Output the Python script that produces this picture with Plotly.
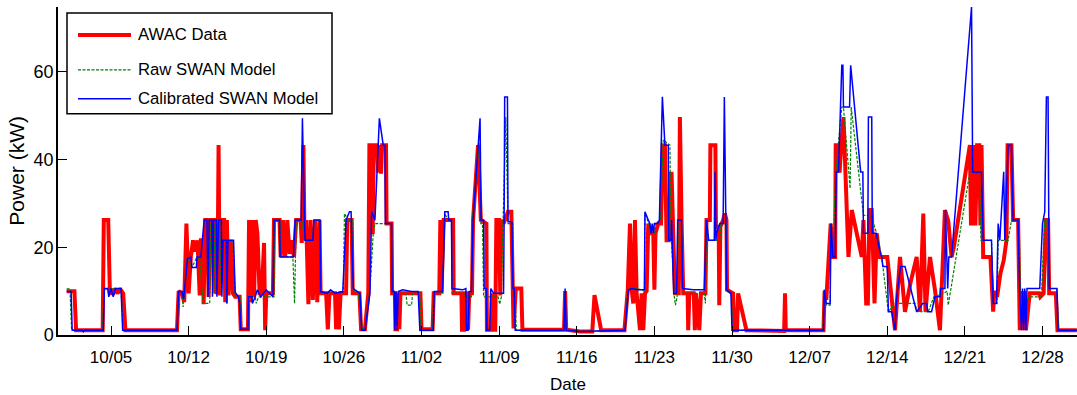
import pandas as pd
import plotly.graph_objects as go

# ---------------- data (days since 1 Oct, power in kW) ----------------
start = pd.Timestamp("2012-10-01")

awac_days = [0.0, 0.7, 0.85, 3.25, 3.35, 3.75, 3.9, 4.2, 4.3, 4.6, 4.8, 5.1, 5.3, 9.95, 10.1, 10.4, 10.6, 10.8,
             10.9, 11.0, 11.2, 11.4, 11.6, 11.8, 12.0, 12.1, 12.3, 12.35, 12.5, 12.7, 12.8, 13.0, 13.3, 13.4, 13.6, 13.7,
             13.8, 14.0, 14.2, 14.3, 14.45, 14.6, 14.8, 15.0, 15.2, 15.6, 15.7, 16.35, 16.45, 16.6, 16.75, 16.9, 17.05,
             17.2, 17.4, 17.6, 17.8, 17.9, 18.0, 18.6, 18.7, 19.2, 19.3, 19.5, 19.7, 19.9, 20.1, 20.3, 20.5, 20.7, 21.1,
             21.2, 21.35, 21.45, 21.6, 21.8, 22.0, 22.2, 22.4, 22.6, 22.8, 22.9, 23.4, 23.55, 23.7, 24.2, 24.3, 24.45,
             24.55, 24.7, 25.2, 25.3, 25.7, 25.8, 26.4, 26.55, 26.9, 27.2, 27.3, 27.55, 27.6, 27.7, 28.0, 28.1, 28.2,
             28.35, 28.45, 28.8, 28.85, 29.3, 29.35, 29.6, 29.65, 29.8, 29.9, 30.0, 30.1, 31.9, 32.0, 33.0, 33.1, 33.6,
             33.7, 33.8, 34.0, 34.85, 34.9, 35.6, 35.65, 35.85, 35.9, 36.15, 36.2, 36.3, 36.55, 36.65, 37.1, 37.35, 37.85,
             37.9, 38.3, 38.35, 38.45, 38.65, 38.75, 39.0, 39.1, 39.2, 39.4, 39.8, 40.1, 40.2, 40.3, 40.5, 41.0, 41.1,
             44.85, 44.95, 45.05, 46.3, 47.4, 47.6, 48.2, 50.3, 50.6, 50.8, 50.95, 51.1, 51.25, 51.4, 51.7, 51.85, 52.0,
             52.15, 52.3, 52.45, 52.6, 52.9, 53.0, 53.1, 53.35, 53.6, 53.75, 53.95, 54.1, 54.3, 54.45, 54.55, 54.7, 54.85,
             55.2, 55.3, 55.45, 55.6, 56.0, 56.05, 56.15, 56.55, 56.65, 56.75, 57.05, 57.2, 57.6, 57.7, 58.0, 58.05, 58.5,
             58.55, 58.8, 58.85, 58.95, 59.2, 59.35, 59.5, 59.55, 60.1, 60.2, 60.45, 60.55, 61.3, 64.7, 64.78, 64.85,
             68.25, 68.35, 68.5, 68.9, 69.1, 69.3, 69.35, 69.6, 69.7, 69.85, 70.05, 70.5, 70.8, 71.7, 71.85, 72.1, 72.25,
             72.4, 72.6, 72.85, 73.05, 73.3, 74.0, 74.7, 75.15, 75.6, 76.1, 76.65, 76.95, 77.25, 77.45, 77.85, 78.3,
             78.75, 79.2, 79.5, 79.8, 80.0, 81.45, 81.55, 81.65, 81.75, 81.85, 81.95, 82.1, 82.3, 82.4, 82.5, 82.65,
             83.3, 83.55, 83.65, 83.9, 84.2, 84.5, 84.75, 84.85, 85.2, 85.35, 85.8, 85.95, 86.1, 86.2, 86.35, 86.5,
             86.85, 87.7, 87.8, 88.1, 88.3, 88.5, 88.6, 89.2, 89.35, 91.1]
awac_kw = [10, 10, 1.1, 1.1, 26.2, 26.2, 9.5, 9.5, 10.6, 9.5, 10.6, 9.5, 1.1, 1.1, 10, 9.5, 7.5, 25.4,
           18, 9.5, 17.8, 21.6, 19, 21.6, 9, 21.6, 21.6, 7, 26.2, 26.2, 8.7, 26.2, 26.2, 9.5, 10, 43.3,
           9, 26.2, 26.2, 7.5, 26.2, 9, 21.6, 9.5, 8.7, 8.7, 1.3, 1.3, 26.2, 7.5, 26.2, 8.7, 26.2,
           23.2, 9.5, 9.5, 21, 1.1, 9.5, 9.5, 26.2, 26.2, 17.8, 26.2, 17.8, 26.2, 18.5, 21.6, 17.8, 26.2, 26.2,
           21, 43.3, 21.6, 26.2, 7, 26.2, 8, 26.2, 7.5, 26.2, 9.5, 9.5, 1.3, 9.5, 9.5, 1.3, 9.5,
           1.3, 9.5, 9.5, 26.2, 26.2, 9.5, 9.5, 1.3, 1.3, 9.5, 43.3, 43.3, 23, 43.3, 43.3, 37, 43.3,
           36.8, 43.3, 43.3, 25.4, 25.4, 9.5, 9.5, 1.3, 1.3, 9.5, 1.3, 9.5, 9.5, 1.3, 1.3, 9.5, 9.5,
           26.2, 9.5, 26.2, 26.2, 9.5, 9.5, 1.2, 1.2, 9.5, 9.5, 1.2, 9.5, 9.5, 26.2, 43.3, 26.2, 25.4,
           1.2, 1.2, 9.5, 1.2, 1.2, 26.2, 26.2, 9, 26.2, 25.4, 28.1, 28.1, 9.5, 1.5, 10.6, 10.6, 1.2,
           1.2, 10, 1.2, 0.8, 0.8, 9.1, 1.1, 1.1, 10.3, 25.4, 10.3, 7.2, 26.2, 9.5, 1.1, 9.5, 1.1,
           9.5, 10, 25.4, 23.2, 23.2, 10.3, 23.2, 25.4, 25.4, 43.3, 43.3, 21.6, 21.6, 36.8, 36.8, 17.8, 9.5,
           9.5, 49.7, 26.2, 9.5, 9.5, 1.1, 9.5, 9.5, 1.1, 9.5, 1.1, 9.5, 9.5, 26.2, 26.2, 43.3, 43.3,
           24.7, 24.7, 6.8, 24.7, 26.2, 27.7, 26.2, 10.3, 9.5, 1.1, 1.1, 9.5, 1.1, 0.9, 9.5, 1.1,
           1.1, 10, 8, 25.4, 17.8, 17.8, 43.3, 43.3, 37, 43.3, 49.7, 17.8, 28.5, 17.8, 26.2, 7.2, 7.2,
           28.5, 28.5, 7.2, 23.2, 17.8, 17.8, 1.1, 17.8, 5.3, 12, 17.8, 5.3, 27.7, 5.3, 17.8, 10.3,
           1.1, 28.5, 26, 17.8, 20, 43.3, 25, 43.3, 25, 43.3, 25, 43.3, 43.3, 25, 43.3, 17.8,
           17.8, 5.3, 10, 8.7, 14, 17, 21.6, 43.3, 43.3, 26.2, 26.2, 1.1, 10, 1.1, 10, 1.1,
           9.5, 9.5, 8.7, 9.5, 26.2, 26.2, 9.5, 9.5, 1.1, 1.1]

raw_days = [0.0, 0.3, 0.45, 3.2, 3.4, 4.9, 5.1, 9.95, 10.1, 10.4, 10.5, 10.9, 11.3, 11.7, 12.0, 12.3, 12.9, 13.0,
            13.3, 13.4, 13.5, 13.8, 13.95, 14.0, 14.4, 14.45, 14.5, 15.0, 15.2, 15.65, 15.75, 16.35, 16.4, 17.0, 17.1,
            17.3, 18.7, 18.75, 19.25, 19.3, 20.4, 20.55, 20.7, 21.2, 21.5, 22.2, 22.3, 22.85, 22.9, 24.95, 25.05, 25.4,
            25.8, 25.85, 26.3, 26.7, 26.9, 27.35, 27.65, 27.8, 29.3, 29.35, 30.6, 30.7, 31.1, 31.2, 31.85, 31.95, 33.0,
            33.1, 33.9, 34.1, 34.4, 34.7, 34.75, 35.9, 36.0, 36.5, 36.55, 37.2, 37.35, 37.5, 37.6, 38.9, 39.05, 39.2,
            39.35, 39.6, 39.8, 40.25, 40.3, 40.45, 40.55, 44.85, 44.95, 45.05, 46.3, 50.35, 50.6, 51.5, 52.1, 52.15,
            52.5, 52.6, 53.0, 53.1, 53.55, 53.8, 54.4, 54.5, 54.8, 54.9, 55.05, 55.15, 55.45, 55.6, 57.5, 57.6, 57.7,
            57.85, 58.9, 59.0, 59.5, 59.55, 59.95, 60.05, 68.2, 68.3, 68.5, 68.85, 68.9, 69.1, 69.35, 69.6, 69.9, 70.05,
            70.65, 70.75, 71.85, 72.5, 73.05, 73.5, 74.1, 74.7, 76.5, 76.7, 77.7, 78.2, 79.1, 79.4, 79.5, 81.45, 82.3,
            82.45, 83.4, 83.55, 83.9, 84.0, 84.9, 85.2, 85.9, 86.0, 86.3, 86.6, 86.8, 87.9, 88.2, 88.4, 88.6, 89.3,
            89.45, 91.1]
raw_kw = [10.5, 10.5, 1.1, 1.1, 10.5, 10.5, 1.1, 1.1, 10, 9.5, 6.4, 17.5, 15.4, 17.5, 17.5, 7.2, 7.2, 26.2,
          26.2, 9.5, 26.2, 26.2, 9.5, 21.6, 21.6, 7.2, 21.6, 21.6, 8.7, 8.7, 1.3, 1.3, 8.7, 8.7, 7.2,
          8.7, 8.7, 26.2, 26.2, 17.8, 17.8, 7.2, 26.2, 26.2, 21.6, 21.6, 26.2, 26.2, 9.5, 9.5, 27.7, 26.2,
          26.2, 10.3, 9.5, 1.1, 1.1, 10.3, 23.2, 25.4, 25.4, 9.5, 9.5, 6.8, 6.8, 9.5, 9.5, 1.1, 1.1,
          9.5, 9.5, 27.7, 26.2, 26.2, 9.5, 9.5, 8.7, 8.7, 25.4, 43.7, 25.4, 25.4, 8.7, 8.7, 7, 8.7,
          25.4, 49.7, 25.4, 25.4, 8.7, 8.7, 1.1, 1.1, 10, 1.1, 0.8, 1.1, 10.6, 10.6, 10, 27.7,
          25.4, 23.2, 23.2, 25.4, 26.2, 44.5, 43.3, 23.2, 8.7, 6.8, 8.7, 25.4, 25.4, 9.5, 9.5, 7.2, 26.2,
          21.6, 21.6, 25.4, 25.4, 10.3, 9, 1.1, 1.1, 10.3, 6.8, 6.8, 25.4, 17.8, 37, 43.3, 52, 52,
          33.4, 52, 27.3, 27.3, 23.2, 17.8, 5.3, 7.2, 7.2, 5.3, 5.3, 8.7, 9.5, 10, 6.8, 37.2, 37.2,
          21.6, 21.6, 7.2, 7.2, 21.6, 21.6, 26.2, 26.2, 9.5, 8.7, 7, 8.7, 8.7, 26.2, 26.2, 10.6, 10.6,
          1.1, 1.1]

cal_days = [0.0, 0.4, 0.5, 1.4, 1.5, 1.6, 3.3, 3.4, 3.7, 3.8, 4.0, 4.2, 4.4, 4.9, 5.05, 9.95, 10.1, 10.4, 10.55,
            10.9, 11.2, 11.3, 11.7, 11.75, 12.1, 12.4, 12.65, 12.75, 12.85, 13.1, 13.15, 13.25, 13.5, 13.55, 13.7,
            13.95, 14.0, 14.1, 14.4, 14.45, 14.55, 15.05, 15.2, 15.5, 15.6, 15.7, 16.35, 16.4, 16.7, 16.75, 17.0,
            17.2, 17.5, 18.0, 18.6, 18.7, 19.2, 19.25, 20.45, 20.6, 21.15, 21.26, 21.45, 21.5, 22.2, 22.3, 22.85,
            22.9, 23.5, 23.8, 24.2, 24.9, 25.2, 25.5, 25.65, 25.85, 26.45, 26.6, 26.9, 27.35, 27.5, 27.8, 28.2,
            28.55, 28.7, 28.75, 29.3, 29.35, 29.55, 29.6, 29.7, 29.8, 29.9, 30.3, 31.1, 31.7, 31.85, 33.05, 33.15,
            33.9, 34.1, 34.4, 34.45, 34.7, 34.75, 35.7, 36.0, 36.05, 36.2, 36.3, 36.5, 36.65, 37.28, 37.37, 37.6,
            37.65, 37.85, 37.9, 38.15, 38.25, 38.5, 39.4, 39.45, 39.5, 39.75, 39.8, 40.15, 40.25, 40.35, 40.45,
            44.85, 44.95, 45.05, 46.3, 50.35, 50.65, 51.0, 51.5, 52.1, 52.15, 52.45, 52.6, 52.7, 52.8, 52.9, 53.0,
            53.3, 53.45, 53.72, 53.95, 54.25, 54.3, 54.5, 54.55, 54.75, 55.0, 55.1, 55.45, 55.55, 56.5, 57.5, 57.7,
            57.9, 58.4, 58.47, 58.55, 58.6, 58.9, 59.2, 59.31, 59.45, 59.52, 59.9, 60.0, 68.25, 68.33, 68.5, 68.85,
            68.93, 69.1, 69.3, 69.4, 69.6, 69.9, 70.0, 70.05, 70.6, 70.7, 71.6, 71.8, 71.85, 72.25, 72.3, 72.6,
            72.65, 73.0, 73.3, 73.5, 73.6, 74.0, 74.1, 74.4, 74.7, 74.85, 75.2, 75.6, 76.65, 77.2, 77.55, 77.65,
            78.0, 78.3, 78.75, 78.8, 79.2, 79.25, 79.45, 79.55, 79.8, 81.6, 81.7, 82.5, 82.65, 83.4, 83.55, 83.85,
            84.0, 84.15, 84.5, 84.6, 84.9, 85.2, 85.35, 85.8, 85.95, 86.1, 86.2, 86.3, 86.4, 86.5, 86.6, 86.75,
            87.75, 88.0, 88.2, 88.35, 88.5, 88.6, 89.3, 89.4, 91.1]
cal_kw = [9.9, 9.9, 1.1, 1.1, 0.7, 1.1, 1.1, 10.6, 10.6, 8.7, 10.6, 8.7, 10.6, 10.6, 1.1, 1.1, 9.9, 9.9, 8.2,
          17.5, 17.8, 15.4, 15.4, 17.8, 17.8, 26.2, 26.2, 8.7, 26.2, 26.2, 8.7, 26.2, 26.2, 8.7, 26.2,
          26.2, 8.7, 21.6, 21.6, 7.2, 21.6, 21.6, 9.7, 8.7, 7.2, 1.3, 1.3, 8.7, 8.7, 7.2, 8.7,
          10.3, 8.7, 10.3, 8.7, 26.2, 26.2, 17.8, 17.8, 26.2, 26.2, 49.4, 26.2, 21.6, 21.6, 26.2, 26.2,
          9.9, 9.5, 10.3, 9.5, 9.9, 26.2, 28.1, 28.1, 10.6, 9.5, 1.1, 1.1, 9.5, 28.1, 26.2, 49.4,
          43.3, 43.3, 25.4, 25.4, 9.9, 9.9, 1.1, 9.9, 1.1, 9.9, 10.3, 9.9, 9.9, 1.1, 1.1, 9.9,
          9.9, 28.1, 28.1, 26.2, 26.2, 10.6, 10.3, 10.6, 1.1, 1.1, 9.9, 9.9, 26.2, 49.4, 26.2, 26.2,
          10.6, 10.6, 1.1, 1.1, 10.6, 9.5, 9.5, 26.2, 54.3, 54.3, 25.8, 25.8, 10.6, 10.6, 1.1,
          1.1, 10.6, 1.1, 0.8, 1.1, 10.3, 10.6, 10.3, 10.3, 28.1, 26.2, 25.4, 23.2, 25.4, 23.2, 25.4,
          25.4, 26.2, 54.3, 43.3, 43.3, 21.6, 21.6, 26.2, 9.5, 9.5, 26.2, 26.2, 10.6, 10.3, 10.3, 26.2,
          21.6, 21.6, 37.2, 21.6, 23.2, 25.4, 25.4, 54.3, 26.2, 10.3, 9.5, 1.1, 1.1, 10.3, 7.2, 7.2,
          25.4, 17.8, 17.8, 37.2, 37.2, 61.5, 61.5, 52, 52, 61.5, 37.2, 37.2, 23.2, 23.2, 49.7, 49.7,
          23.2, 23.2, 19.5, 17.8, 15.6, 15.6, 5.3, 5.3, 1.1, 8.7, 15.6, 15.6, 5.3, 7.2, 7.2, 5.3,
          5.3, 8.7, 8.7, 10.6, 10.6, 28.5, 10.6, 17.8, 17.8, 74.8, 37.2, 37.2, 21.6, 21.6, 7.2, 7.2,
          25.4, 21.6, 37.2, 21.6, 43.3, 43.3, 26.2, 26.2, 9.5, 1.1, 10.6, 1.1, 10.6, 1.1, 10.6, 10.6,
          10.6, 25.4, 28.1, 54.3, 54.3, 10.6, 10.6, 1.1, 1.1]

tick_days = [4, 11, 18, 25, 32, 39, 46, 53, 60, 67, 74, 81, 88]
tick_labels = ["10/05", "10/12", "10/19", "10/26", "11/02", "11/09", "11/16",
               "11/23", "11/30", "12/07", "12/14", "12/21", "12/28"]
y_ticks = [0, 20, 40, 60]
x_range_days = [-0.78, 91.11]
y_range = [0, 74.8]

series_names = ["AWAC Data", "Raw SWAN Model", "Calibrated SWAN Model"]


def to_dates(days):
    return start + pd.to_timedelta(pd.Series(days, dtype=float), unit="D")


FONT = "Liberation Sans, Arial, sans-serif"

fig = go.Figure()
fig.add_trace(go.Scatter(x=to_dates(awac_days), y=awac_kw, mode="lines", name=series_names[0],
                         line=dict(color="#ff0000", width=4), showlegend=False))
fig.add_trace(go.Scatter(x=to_dates(raw_days), y=raw_kw, mode="lines", name=series_names[1],
                         line=dict(color="#008000", width=1.2, dash="3px,1.5px"), showlegend=False))
fig.add_trace(go.Scatter(x=to_dates(cal_days), y=cal_kw, mode="lines", name=series_names[2],
                         line=dict(color="#0000ff", width=1.5), showlegend=False))

xr = list(to_dates(x_range_days))
fig.update_layout(
    width=1077, height=395,
    margin=dict(l=58, r=0, t=7, b=59.5),
    paper_bgcolor="white", plot_bgcolor="white",
    font=dict(family=FONT, size=17, color="black"),
    xaxis=dict(range=xr, tickvals=list(to_dates(tick_days)), ticktext=tick_labels,
               ticks="inside", ticklen=9, tickcolor="black", tickwidth=1, ticklabelstandoff=6,
               showline=True, linecolor="black", linewidth=1.5, showgrid=False, zeroline=False,
               tickfont=dict(family=FONT, size=17)),
    yaxis=dict(range=y_range, tickvals=y_ticks, ticks="inside", ticklen=9, tickcolor="black",
               ticklabelstandoff=-1,
               showline=True, linecolor="black", linewidth=1.5, showgrid=False, zeroline=False,
               tickfont=dict(family=FONT, size=18)),
)

# axis titles
fig.add_annotation(text="Date", xref="paper", yref="paper", x=0.5, y=-0.151,
                   xanchor="center", yanchor="middle", showarrow=False, font=dict(size=17))
fig.add_annotation(text="Power (kW)", xref="paper", yref="paper", x=-0.0415, y=0.5,
                   xanchor="center", yanchor="middle", textangle=-90, showarrow=False, font=dict(size=21))

# legend box (drawn by hand to match the original layout)
plot_w = 1077 - 58
plot_h = 395 - 7 - 59.5


def px_x(p):
    return (p - 58) / plot_w


def px_y(p):
    return (395 - 59.5 - p) / plot_h


fig.add_shape(type="rect", xref="paper", yref="paper", x0=px_x(67), x1=px_x(332), y0=px_y(114), y1=px_y(13),
              line=dict(color="black", width=1.5), fillcolor="white", layer="above")
legend_styles = [dict(color="#ff0000", width=4), dict(color="#008000", width=1.2, dash="3px,1.5px"),
                 dict(color="#0000ff", width=1.5)]
legend_rows = [35, 70, 99]
for name, style, row in zip(series_names, legend_styles, legend_rows):
    fig.add_shape(type="line", xref="paper", yref="paper", x0=px_x(78), x1=px_x(131),
                  y0=px_y(row), y1=px_y(row), line=style, layer="above")
    fig.add_annotation(text=name, xref="paper", yref="paper", x=px_x(136), y=px_y(row),
                       xanchor="left", yanchor="middle", showarrow=False, font=dict(size=16.7))

fig.write_html("out.html")
